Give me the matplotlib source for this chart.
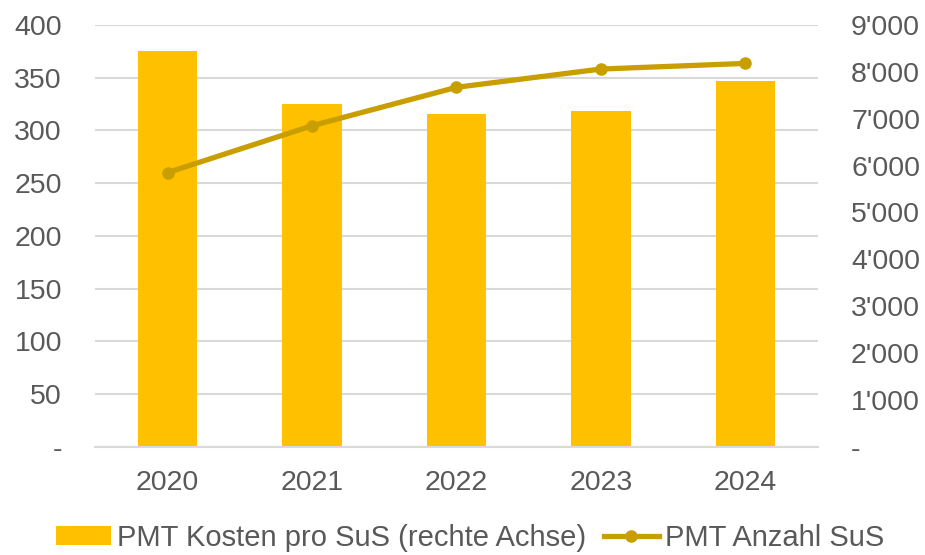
import matplotlib.pyplot as plt
import matplotlib.ticker as mticker
import numpy as np

plt.rcParams['font.family'] = ['Liberation Sans', 'DejaVu Sans']

years = ["2020", "2021", "2022", "2023", "2024"]
kosten = [375, 325, 316, 318, 347]          # bars, left scale
anzahl = [5850, 6850, 7670, 8060, 8180]     # line, right scale

bar_color = "#FFC000"
line_color = "#C99E00"
grid_color = "#D9D9D9"
text_color = "#595959"

fig = plt.figure(figsize=(9.25, 5.55), dpi=100)
ax = fig.add_axes([0.103, 0.195, 0.781, 0.76])
ax2 = ax.twinx()

x = np.arange(len(years))
ax.bar(x, kosten, width=0.41, color=bar_color, zorder=2,
       label="PMT Kosten pro SuS (rechte Achse)")
ax2.plot(x, anzahl, color=line_color, linewidth=3.8, marker="o",
         markersize=8, label="PMT Anzahl SuS", zorder=3)

ax.set_xlim(-0.5, 4.5)
ax.set_ylim(0, 400)
ax2.set_ylim(0, 9000)
ax.set_yticks(np.arange(0, 401, 50))
ax2.set_yticks(np.arange(0, 9001, 1000))


def left_fmt(v, pos):
    return "-" if v == 0 else f"{int(v)}"


def right_fmt(v, pos):
    return "-" if v == 0 else f"{int(v):,}".replace(",", "'")


ax.yaxis.set_major_formatter(mticker.FuncFormatter(left_fmt))
ax2.yaxis.set_major_formatter(mticker.FuncFormatter(right_fmt))
ax.set_xticks(x)
ax.set_xticklabels(years)

ax.yaxis.grid(True, color=grid_color, linewidth=1.5, zorder=0)
ax.set_axisbelow(True)
for a in (ax, ax2):
    for s in a.spines.values():
        s.set_visible(False)
ax.spines["bottom"].set_visible(True)
ax.spines["bottom"].set_color(grid_color)
ax.spines["bottom"].set_linewidth(1.5)

ax.tick_params(axis="y", length=0, pad=24, labelsize=20.5, labelcolor=text_color)
ax2.tick_params(axis="y", length=0, pad=24, labelsize=20.5, labelcolor=text_color)
ax.tick_params(axis="x", length=0, pad=17, labelsize=20.5, labelcolor=text_color)

h1, l1 = ax.get_legend_handles_labels()
h2, l2 = ax2.get_legend_handles_labels()
fig.legend(h1 + h2, l1 + l2, loc="center", bbox_to_anchor=(0.508, 0.031),
           ncol=2, frameon=False, fontsize=21, labelcolor=text_color,
           handlelength=1.9, handleheight=0.6, handletextpad=0.2,
           columnspacing=0.6, borderpad=0)

fig.savefig("out.png", dpi=100)
